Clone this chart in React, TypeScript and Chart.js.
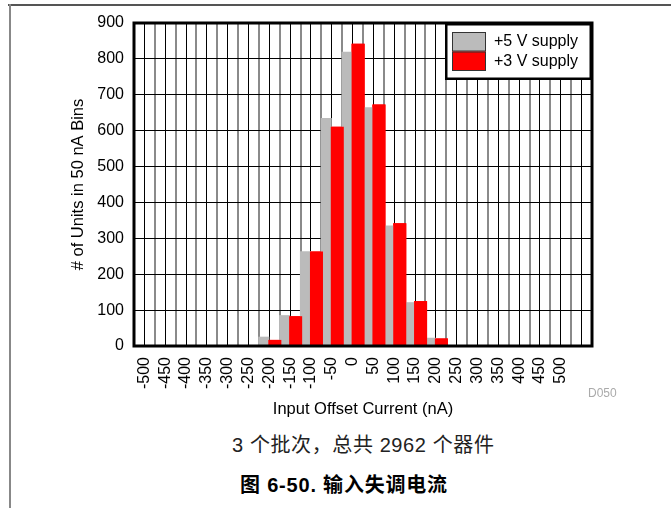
import React, { useEffect, useRef } from "react";
import { Chart, registerables } from "chart.js";

Chart.register(...registerables);

// Bin centres (nA); the last category (550) carries no label
const categories = [
  "-500", "-450", "-400", "-350", "-300", "-250", "-200", "-150", "-100", "-50",
  "0", "50", "100", "150", "200", "250", "300", "350", "400", "450", "500", "",
];

// Units per 50 nA bin
const supply5V = [0, 0, 0, 0, 0, 1, 26, 86, 264, 635, 820, 665, 336, 122, 23, 0, 0, 0, 0, 0, 0, 0];
const supply3V = [1, 1, 0, 0, 2, 0, 17, 83, 263, 611, 842, 673, 342, 125, 21, 1, 1, 0, 0, 0, 1, 0];

const seriesLabels = ["+5 V supply", "+3 V supply"];
const seriesColors = ["#bbbbbb", "#ff0000"];

const yTicksMax = 900;
const yTickStep = 100;

const FONT = "'Liberation Sans', Arial, Helvetica, sans-serif";

const overlayPlugin = {
  id: "overlay",
  afterDatasetsDraw(chart: any) {
    const ctx = chart.ctx as CanvasRenderingContext2D;
    const a = chart.chartArea;
    // draw the +3 V bars again so they sit over the neighbouring grey bars
    ctx.save();
    ctx.beginPath();
    ctx.rect(a.left, a.top, a.right - a.left, a.bottom - a.top);
    ctx.clip();
    chart.getDatasetMeta(1).controller.draw();
    ctx.restore();

    // plot frame
    ctx.save();
    ctx.strokeStyle = "#000";
    ctx.lineWidth = 3;
    ctx.strokeRect(a.left, a.top, a.right - a.left, a.bottom - a.top);
    ctx.restore();

    // legend in the upper right corner
    const bw = 147;
    const bh = 57;
    const bx = a.right - bw;
    const by = a.top;
    ctx.save();
    ctx.fillStyle = "#fff";
    ctx.fillRect(bx, by, bw, bh);
    ctx.strokeStyle = "#000";
    ctx.lineWidth = 2.5;
    ctx.strokeRect(bx + 1.25, by + 1.25, bw - 2.5, bh - 2.5);
    ctx.font = `16px ${FONT}`;
    ctx.textBaseline = "middle";
    ctx.textAlign = "left";
    chart.data.datasets.forEach((ds: any, i: number) => {
      const sy = by + 9 + i * 19.5;
      ctx.fillStyle = ds.backgroundColor;
      ctx.fillRect(bx + 7, sy, 34, 19.5);
      ctx.strokeStyle = "#333";
      ctx.lineWidth = 1;
      ctx.strokeRect(bx + 7.5, sy + 0.5, 33, 18.5);
      ctx.fillStyle = "#000";
      ctx.fillText(ds.label, bx + 49, sy + 10);
    });
    ctx.restore();
  },
};

export default function App() {
  const ref = useRef<HTMLCanvasElement>(null);

  useEffect(() => {
    const canvas = ref.current;
    if (!canvas) return;
    const tickFont = { family: FONT, size: 16 };
    const titleFont = { family: FONT, size: 16.5 };
    const chart = new Chart(canvas, {
      type: "bar",
      data: {
        labels: categories,
        datasets: [
          {
            label: seriesLabels[0],
            data: supply5V,
            backgroundColor: seriesColors[0],
            borderWidth: 0,
            categoryPercentage: 1.06,
            barPercentage: 1,
          },
          {
            label: seriesLabels[1],
            data: supply3V,
            backgroundColor: seriesColors[1],
            borderWidth: 0,
            categoryPercentage: 1.06,
            barPercentage: 1.18,
          },
        ],
      },
      options: {
        responsive: false,
        animation: false,
        layout: { padding: { left: 0, top: 23, right: 79, bottom: 0 } },
        plugins: {
          legend: { display: false },
          tooltip: { enabled: false },
        },
        scales: {
          x: {
            type: "category",
            offset: true,
            grid: { offset: false, color: "#000", lineWidth: 1, drawTicks: false },
            border: { display: false },
            ticks: {
              autoSkip: false,
              maxRotation: 90,
              minRotation: 90,
              padding: 11,
              color: "#000",
              font: tickFont,
            },
            title: {
              display: true,
              text: "Input Offset Current (nA)",
              color: "#000",
              font: titleFont,
              padding: { top: 0, bottom: 11 },
            },
            afterFit: (s: any) => {
              s.height = 84;
            },
          },
          x2: {
            type: "category",
            labels: categories,
            position: "bottom",
            offset: true,
            grid: { offset: true, color: "#8a8a8a", lineWidth: 2, drawTicks: false },
            border: { display: false },
            ticks: { display: false },
            afterFit: (s: any) => {
              s.height = 0;
            },
          },
          y: {
            min: 0,
            max: yTicksMax,
            ticks: { stepSize: yTickStep, padding: 10, color: "#000", font: tickFont },
            grid: { color: "#000", lineWidth: 1, drawTicks: false },
            border: { display: false },
            title: {
              display: true,
              text: "# of Units in 50 nA Bins",
              color: "#000",
              font: titleFont,
              padding: { top: 69, bottom: 0 },
            },
            afterFit: (s: any) => {
              s.width = 134;
            },
          },
        },
      },
      plugins: [overlayPlugin],
    } as any);
    return () => chart.destroy();
  }, []);

  return (
    <div
      style={{
        position: "fixed",
        left: 0,
        top: 0,
        width: 671,
        height: 508,
        background: "#fff",
        overflow: "hidden",
      }}
    >
      <div style={{ position: "absolute", left: 8, top: 4, right: 0, height: 2, background: "#555" }} />
      <div style={{ position: "absolute", left: 9, top: 4, width: 2, bottom: 0, background: "#888" }} />
      <canvas
        ref={ref}
        width={671}
        height={430}
        style={{ position: "absolute", left: 0, top: 0, width: 671, height: 430 }}
      />
      <div
        style={{
          position: "absolute",
          left: 588,
          top: 386,
          fontFamily: FONT,
          fontSize: 12,
          lineHeight: "14px",
          color: "#aaa",
        }}
      >
        D050
      </div>
      <div
        style={{
          position: "absolute",
          left: 232,
          top: 434,
          fontFamily: "'Liberation Sans', 'Noto Sans CJK SC', sans-serif",
          fontSize: 20,
          letterSpacing: "0.6px",
          lineHeight: "22px",
          color: "#222",
          whiteSpace: "nowrap",
        }}
      >
        3 个批次，总共 2962 个器件
      </div>
      <div
        style={{
          position: "absolute",
          left: 240,
          top: 474,
          fontFamily: "'Liberation Sans', 'Noto Sans CJK SC', sans-serif",
          fontSize: 20,
          fontWeight: "bold",
          letterSpacing: "0.8px",
          lineHeight: "22px",
          color: "#000",
          whiteSpace: "nowrap",
        }}
      >
        图 6-50. 输入失调电流
      </div>
    </div>
  );
}
